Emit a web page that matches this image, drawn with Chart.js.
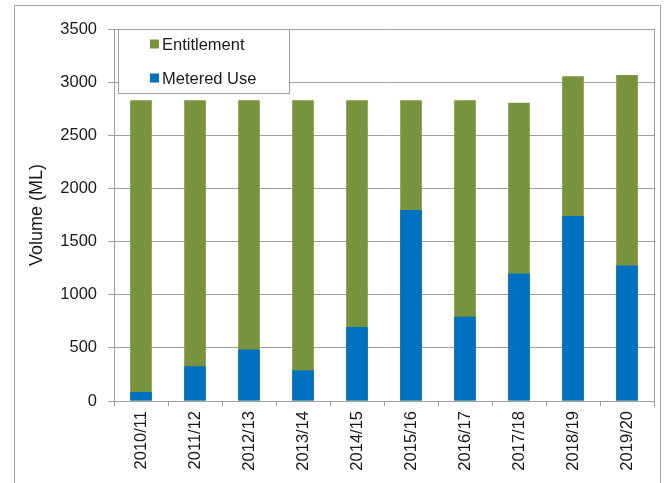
<!DOCTYPE html>
<html>
<head>
<meta charset="utf-8">
<script src="https://cdn.jsdelivr.net/npm/chart.js@4"></script>
<style>
  html, body { margin: 0; padding: 0; background: #fff; }
</style>
</head>
<body>
<canvas id="myChart" width="664" height="483"></canvas>
<script>
let labels = ["2010/11", "2011/12", "2012/13", "2013/14", "2014/15", "2015/16", "2016/17", "2017/18", "2018/19", "2019/20"]
let entitlement = [2830, 2830, 2830, 2830, 2830, 2830, 2830, 2805, 3055, 3068]
let meteredUse = [85, 327, 484, 289, 697, 1797, 792, 1200, 1740, 1276]
let colorHex = ["#77933c", "#0070c0"]
let gridColor = "#a0a0a0"
let textColor = "#1a1a1a"
let fontFamily = "'Liberation Sans', Arial, sans-serif"

// frame round the whole chart, right edge of plot, and the boxed legend
let decor = {
    id: "decor",
    beforeDraw(chart) {
        let c = chart.ctx
        let a = chart.chartArea
        c.save()
        c.fillStyle = "#fff"
        c.fillRect(0, 0, chart.width, chart.height)
        c.strokeStyle = "#a6a6a6"
        c.lineWidth = 1
        c.strokeRect(14.5, 5.5, 646, 600)
        c.strokeStyle = gridColor
        c.beginPath()
        c.moveTo(Math.round(a.right) + 0.5, a.top)
        c.lineTo(Math.round(a.right) + 0.5, a.bottom)
        c.stroke()
        c.restore()
    },
    afterDatasetsDraw(chart) {
        let c = chart.ctx
        let a = chart.chartArea
        let x = a.left + 4, y = a.top, w = 171, h = 64
        c.save()
        c.fillStyle = "#fff"
        c.fillRect(x, y, w, h)
        c.strokeStyle = "#a0a0a0"
        c.strokeRect(x + 0.5, y + 0.5, w, h)
        c.font = "16.5px " + fontFamily
        c.textBaseline = "middle"
        chart.data.datasets.forEach((ds, i) => {
            let cy = y + 15 + i * 34
            c.fillStyle = ds.backgroundColor
            c.fillRect(x + 32, cy - 4.5, 9, 9)
            c.fillStyle = textColor
            c.fillText(ds.label, x + 44, cy + 1)
        })
        c.restore()
    }
}

let ctx = document.getElementById("myChart").getContext("2d")

let myChart = new Chart(ctx, {
    type: "bar",
    data: {
        labels: labels,
        datasets: [
            {
                label: "Entitlement",
                data: entitlement,
                backgroundColor: colorHex[0],
                grouped: false,
                order: 1,
            },
            {
                label: "Metered Use",
                data: meteredUse,
                backgroundColor: colorHex[1],
                grouped: false,
                order: 0,
            },
        ],
    },
    options: {
        responsive: false,
        animation: false,
        layout: { padding: { top: 29, right: 10, left: 0, bottom: 0 } },
        datasets: { bar: { categoryPercentage: 1, barPercentage: 0.4 } },
        plugins: {
            legend: { display: false },
            tooltip: { enabled: false },
        },
        scales: {
            x: {
                afterFit: (s) => { s.height = 82 },
                grid: { drawOnChartArea: false, tickLength: 5, color: gridColor, offset: true },
                border: { color: gridColor },
                ticks: {
                    minRotation: 90,
                    maxRotation: 90,
                    padding: 5,
                    color: textColor,
                    font: { family: fontFamily, size: 16.5 },
                },
            },
            y: {
                min: 0,
                max: 3500,
                afterFit: (s) => { s.width = 114 },
                grid: { color: gridColor, tickLength: 6 },
                border: { color: gridColor },
                ticks: {
                    stepSize: 500,
                    padding: 11,
                    color: textColor,
                    font: { family: fontFamily, size: 16.5 },
                    callback: (v) => String(v),
                },
                title: {
                    display: true,
                    text: "Volume (ML)",
                    color: textColor,
                    padding: { top: 26, bottom: 0 },
                    font: { family: fontFamily, size: 18 },
                },
            },
        },
    },
    plugins: [decor],
})
</script>
</body>
</html>
